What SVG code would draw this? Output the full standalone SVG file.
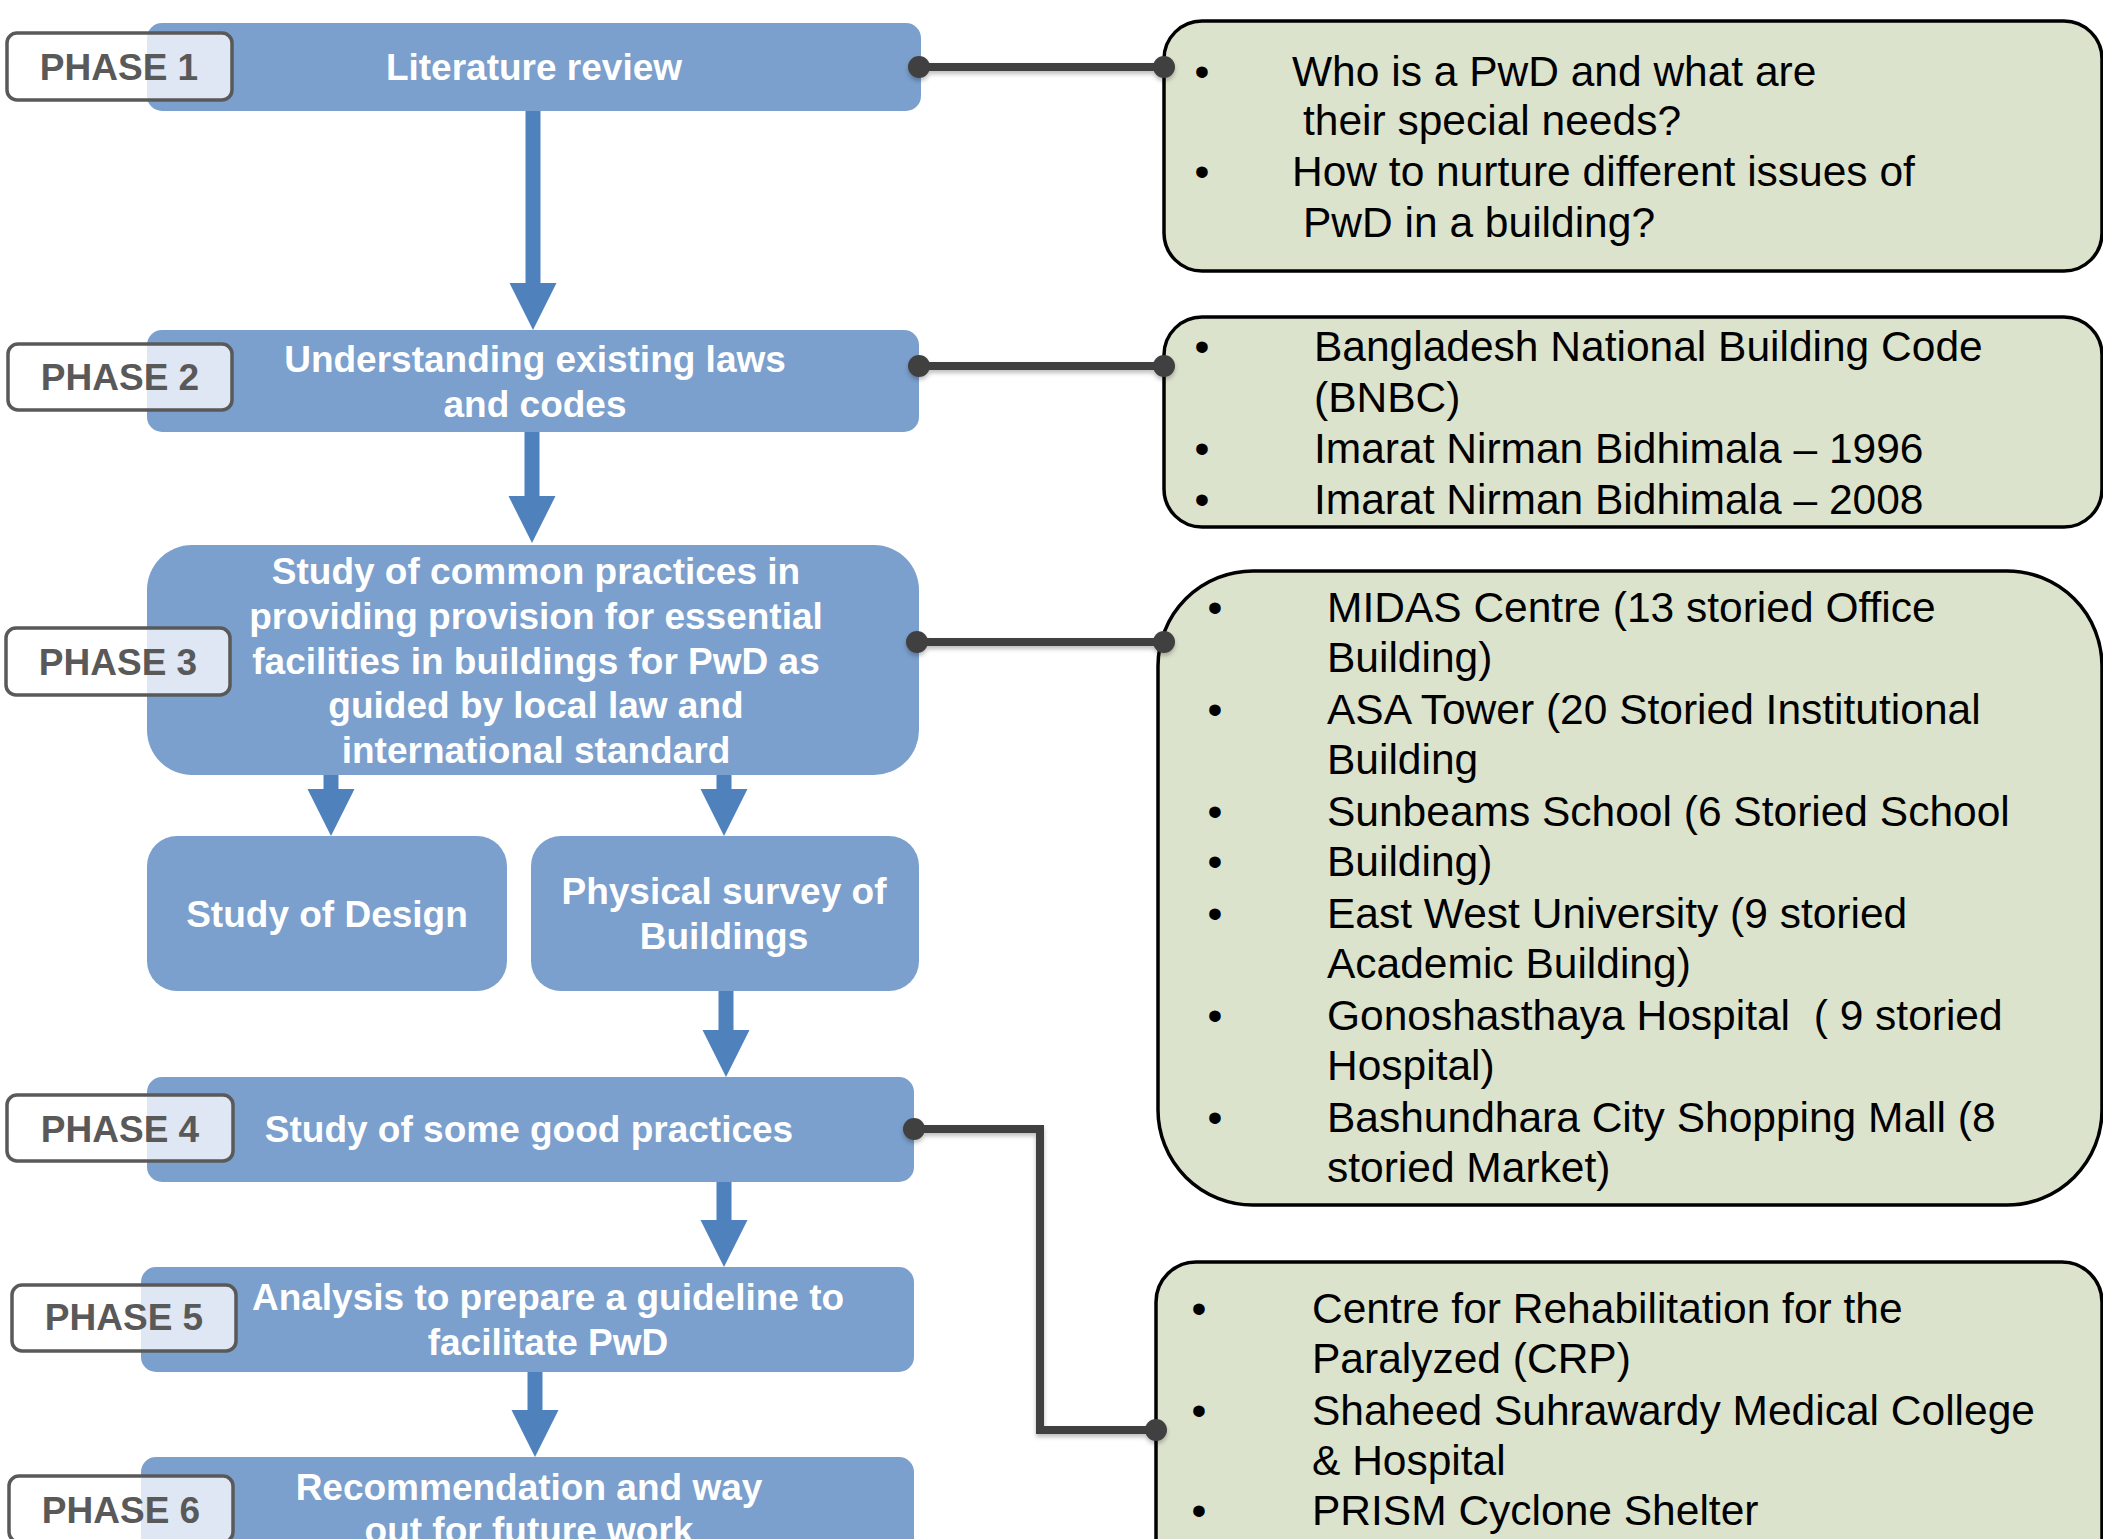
<svg xmlns="http://www.w3.org/2000/svg" width="2103" height="1539" viewBox="0 0 2103 1539">
<style>
.blue{fill:#7ba0cd;}
.phase{fill:#ffffff;fill-opacity:0.75;stroke:#595959;stroke-width:3.5;}
.ptxt{font-family:"Liberation Sans",Arial,sans-serif;font-weight:bold;font-size:37px;fill:#595959;text-anchor:middle;}
.btxt{font-family:"Liberation Sans",Arial,sans-serif;font-weight:bold;font-size:37px;fill:#ffffff;text-anchor:middle;}
.green{fill:#dce3cd;stroke:#000000;stroke-width:3.5;}
.gtxt{font-family:"Liberation Sans",Arial,sans-serif;font-size:42.5px;fill:#000000;}
.bul{font-family:"Liberation Sans",Arial,sans-serif;font-size:42.5px;fill:#000000;text-anchor:middle;}
.arr{fill:#4f81bd;}
.con{fill:none;stroke:#404040;stroke-width:8;}
.dot{fill:#404040;}
</style>
<defs>
<filter id="sh" x="-10%" y="-10%" width="120%" height="140%">
<feDropShadow dx="0" dy="3" stdDeviation="2" flood-color="#000" flood-opacity="0.25"/>
</filter>
</defs>

<g id="arrows">
<path class="arr" d="M525.5,111 H540.5 V283 H556.5 L533,330 L509.5,283 H525.5 Z"/>
<path class="arr" d="M524.5,432 H539.5 V496 H555.5 L532,543 L508.5,496 H524.5 Z"/>
<path class="arr" d="M323.5,775 H338.5 V789 H354.5 L331,836 L307.5,789 H323.5 Z"/>
<path class="arr" d="M716.5,775 H731.5 V789 H747.5 L724,836 L700.5,789 H716.5 Z"/>
<path class="arr" d="M718.5,991 H733.5 V1030 H749.5 L726,1077 L702.5,1030 H718.5 Z"/>
<path class="arr" d="M716.5,1182 H731.5 V1220 H747.5 L724,1267 L700.5,1220 H716.5 Z"/>
<path class="arr" d="M527.5,1367 H542.5 V1410 H558.5 L535,1457 L511.5,1410 H527.5 Z"/>
</g>

<g id="n1">
<rect class="blue" x="147" y="23" width="774" height="88" rx="15"/>
<text class="btxt" x="534" y="80">Literature review</text>
</g>
<g id="n2">
<rect class="blue" x="147" y="330" width="772" height="102" rx="15"/>
<text class="btxt" x="535" y="372">Understanding existing laws</text>
<text class="btxt" x="535" y="417">and codes</text>
</g>
<g id="n3">
<rect class="blue" x="147" y="545" width="772" height="230" rx="45"/>
<text class="btxt" x="536" y="584">Study of common practices in</text>
<text class="btxt" x="536" y="629">providing provision for essential</text>
<text class="btxt" x="536" y="674">facilities in buildings for PwD as</text>
<text class="btxt" x="536" y="718">guided by local law and</text>
<text class="btxt" x="536" y="763">international standard</text>
</g>
<g id="n3a">
<rect class="blue" x="147" y="836" width="360" height="155" rx="30"/>
<text class="btxt" x="327" y="927">Study of Design</text>
</g>
<g id="n3b">
<rect class="blue" x="531" y="836" width="388" height="155" rx="30"/>
<text class="btxt" x="724" y="904">Physical survey of</text>
<text class="btxt" x="724" y="949">Buildings</text>
</g>
<g id="n4">
<rect class="blue" x="147" y="1077" width="767" height="105" rx="15"/>
<text class="btxt" x="529" y="1142">Study of some good practices</text>
</g>
<g id="n5">
<rect class="blue" x="141" y="1267" width="773" height="105" rx="15"/>
<text class="btxt" x="548" y="1310">Analysis to prepare a guideline to</text>
<text class="btxt" x="548" y="1355">facilitate PwD</text>
</g>
<g id="n6">
<rect class="blue" x="141" y="1457" width="773" height="130" rx="15"/>
<text class="btxt" x="529" y="1500">Recommendation and way</text>
<text class="btxt" x="529" y="1543">out for future work</text>
</g>

<g id="p1"><rect class="phase" x="7" y="33" width="225" height="67" rx="10"/><text class="ptxt" x="119" y="80">PHASE 1</text></g>
<g id="p2"><rect class="phase" x="8" y="344" width="224" height="66" rx="10"/><text class="ptxt" x="120" y="390">PHASE 2</text></g>
<g id="p3"><rect class="phase" x="6" y="628" width="224" height="67" rx="10"/><text class="ptxt" x="118" y="675">PHASE 3</text></g>
<g id="p4"><rect class="phase" x="7" y="1095" width="226" height="66" rx="10"/><text class="ptxt" x="120" y="1142">PHASE 4</text></g>
<g id="p5"><rect class="phase" x="12" y="1285" width="224" height="66" rx="10"/><text class="ptxt" x="124" y="1330">PHASE 5</text></g>
<g id="p6"><rect class="phase" x="9" y="1476" width="224" height="66" rx="10"/><text class="ptxt" x="121" y="1523">PHASE 6</text></g>

<g id="gA">
<rect class="green" x="1164" y="21" width="938" height="250" rx="38"/>
<text class="bul" x="1202" y="86">•</text>
<text class="gtxt" x="1292" y="86">Who is a PwD and what are</text>
<text class="gtxt" x="1303" y="135">their special needs?</text>
<text class="bul" x="1202" y="186">•</text>
<text class="gtxt" x="1292" y="186">How to nurture different issues of</text>
<text class="gtxt" x="1303" y="237">PwD in a building?</text>
</g>
<g id="gB">
<rect class="green" x="1164" y="317" width="938" height="210" rx="38"/>
<text class="bul" x="1202" y="361">•</text>
<text class="gtxt" x="1314" y="361">Bangladesh National Building Code</text>
<text class="gtxt" x="1314" y="412">(BNBC)</text>
<text class="bul" x="1202" y="463">•</text>
<text class="gtxt" x="1314" y="463">Imarat Nirman Bidhimala – 1996</text>
<text class="bul" x="1202" y="514">•</text>
<text class="gtxt" x="1314" y="514">Imarat Nirman Bidhimala – 2008</text>
</g>
<g id="gC">
<rect class="green" x="1158" y="571" width="944" height="634" rx="95"/>
<text class="bul" x="1215" y="622">•</text>
<text class="gtxt" x="1327" y="622">MIDAS Centre (13 storied Office</text>
<text class="gtxt" x="1327" y="672">Building)</text>
<text class="bul" x="1215" y="724">•</text>
<text class="gtxt" x="1327" y="724">ASA Tower (20 Storied Institutional</text>
<text class="gtxt" x="1327" y="774">Building</text>
<text class="bul" x="1215" y="826">•</text>
<text class="gtxt" x="1327" y="826">Sunbeams School (6 Storied School</text>
<text class="bul" x="1215" y="876">•</text>
<text class="gtxt" x="1327" y="876">Building)</text>
<text class="bul" x="1215" y="928">•</text>
<text class="gtxt" x="1327" y="928">East West University (9 storied</text>
<text class="gtxt" x="1327" y="978">Academic Building)</text>
<text class="bul" x="1215" y="1030">•</text>
<text class="gtxt" x="1327" y="1030" xml:space="preserve">Gonoshasthaya Hospital  ( 9 storied</text>
<text class="gtxt" x="1327" y="1080">Hospital)</text>
<text class="bul" x="1215" y="1132">•</text>
<text class="gtxt" x="1327" y="1132">Bashundhara City Shopping Mall (8</text>
<text class="gtxt" x="1327" y="1182">storied Market)</text>
</g>
<g id="gD">
<rect class="green" x="1156" y="1262" width="946" height="330" rx="40"/>
<text class="bul" x="1199" y="1323">•</text>
<text class="gtxt" x="1312" y="1323">Centre for Rehabilitation for the</text>
<text class="gtxt" x="1312" y="1373">Paralyzed (CRP)</text>
<text class="bul" x="1199" y="1425">•</text>
<text class="gtxt" x="1312" y="1425">Shaheed Suhrawardy Medical College</text>
<text class="gtxt" x="1312" y="1475">&amp; Hospital</text>
<text class="bul" x="1199" y="1525">•</text>
<text class="gtxt" x="1312" y="1525">PRISM Cyclone Shelter</text>
</g>

<g id="connectors" filter="url(#sh)">
<path class="con" d="M919,67 H1164"/>
<circle class="dot" cx="919" cy="67" r="11"/>
<circle class="dot" cx="1164" cy="67" r="11"/>
<path class="con" d="M919,366 H1164"/>
<circle class="dot" cx="919" cy="366" r="11"/>
<circle class="dot" cx="1164" cy="366" r="11"/>
<path class="con" d="M917,642 H1164"/>
<circle class="dot" cx="917" cy="642" r="11"/>
<circle class="dot" cx="1164" cy="642" r="11"/>
<path class="con" d="M914,1129 H1040 V1430 H1156"/>
<circle class="dot" cx="914" cy="1129" r="11"/>
<circle class="dot" cx="1156" cy="1430" r="11"/>
</g>
</svg>
